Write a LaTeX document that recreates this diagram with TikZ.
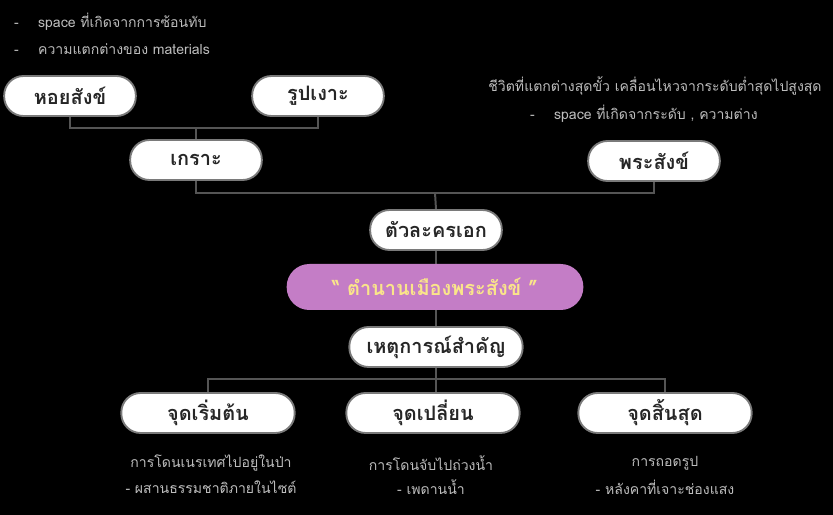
\documentclass[tikz,border=0pt]{standalone}
\usepackage{fontspec}
\newfontfamily\thaifont[Script=Thai]{Loma}
\usepackage{tikz}
\usetikzlibrary{positioning, backgrounds}
\definecolor{linkgray}{HTML}{555555}
\definecolor{pilledge}{HTML}{7A7A7A}
\definecolor{notegray}{HTML}{BDBDBD}
\definecolor{legendpink}{HTML}{C47DC6}
\definecolor{legendgold}{HTML}{FAE58A}
\newcommand{\bulletdash}{\makebox[0.72cm][l]{-}}

\begin{document}
\begin{tikzpicture}[x=0.03cm, y=-0.03cm, font=\thaifont,
  pill/.style={draw=pilledge, line width=1.6pt, fill=white, rounded corners=0.58cm,
    minimum width=3.95cm, minimum height=1.2cm, inner sep=0pt,
    font=\thaifont\bfseries\fontsize{17}{20}\selectfont, text=black!85},
  widepill/.style={pill, minimum width=5.2cm},
  link/.style={draw=linkgray, line width=1.7pt},
  note/.style={font=\thaifont\fontsize{12}{15}\selectfont, text=notegray}]
  % page
  \useasboundingbox (0,0) rectangle (833,515);
  % annotations
  \node[note, anchor=west] (noteA) at (10,22) {\bulletdash space ที่เกิดจากการซ้อนทับ};
  \node[note, anchor=west] (noteB) at (10,49) {\bulletdash ความแตกต่างของ materials};
  \node[note] (noteC) at (655,86) {ชีวิตที่แตกต่างสุดขั้ว เคลื่อนไหวจากระดับต่ำสุดไปสูงสุด};
  \node[note, anchor=west] (noteD) at (526,114) {\bulletdash space ที่เกิดจากระดับ , ความต่าง};
  % upper branch
  \node[pill] (shell) at (70,96) {หอยสังข์};
  \node[pill] (rambutan) at (318,96) {รูปเงาะ};
  \node[pill] (armor) at (196,160) {เกราะ};
  \node[pill] (sang) at (654,161) {พระสังข์};
  \node[pill] (hero) at (436,230) {ตัวละครเอก};
  % centre
  \node[pill, draw=none, fill=legendpink, minimum width=8.9cm, minimum height=1.38cm,
    rounded corners=0.68cm, text=legendgold] (legend) at (435,287) {“ ตำนานเมืองพระสังข์ ”};
  \node[widepill] (events) at (436,347) {เหตุการณ์สำคัญ};
  % lower branch
  \node[widepill] (start) at (208,413) {จุดเริ่มต้น};
  \node[widepill] (turn) at (433,413) {จุดเปลี่ยน};
  \node[widepill] (finish) at (665,413) {จุดสิ้นสุด};
  \node[note] (startA) at (211,463) {การโดนเนรเทศไปอยู่ในป่า};
  \node[note] (startB) at (211,487) {- ผสานธรรมชาติภายในไซต์};
  \node[note] (turnA) at (431,463) {การโดนจับไปถ่วงน้ำ};
  \node[note] (turnB) at (431,487) {- เพดานน้ำ};
  \node[note] (finishA) at (665,463) {การถอดรูป};
  \node[note] (finishB) at (665,487) {- หลังคาที่เจาะช่องแสง};
  % connectors
  \coordinate (topjoin) at (196,128);
  \coordinate (midjoin) at (435,193);
  \coordinate (lowjoin) at (436,379);
  \begin{scope}[on background layer]
    \fill[black] (0,0) rectangle (833,515);
    \draw[link] (shell.south) |- (topjoin) -| (rambutan.south);
    \draw[link] (topjoin) -- (armor.north);
    \draw[link] (armor.south) |- (midjoin) -| (sang.south);
    \draw[link] (midjoin) -- (hero.north);
    \draw[link] (hero.south) -- (events.north);
    \draw[link] (events.south) -- (lowjoin);
    \draw[link] (start.north) |- (lowjoin) -| (finish.north);
    \draw[link] (lowjoin) -- (lowjoin |- turn.north);
  \end{scope}
\end{tikzpicture}
\end{document}
